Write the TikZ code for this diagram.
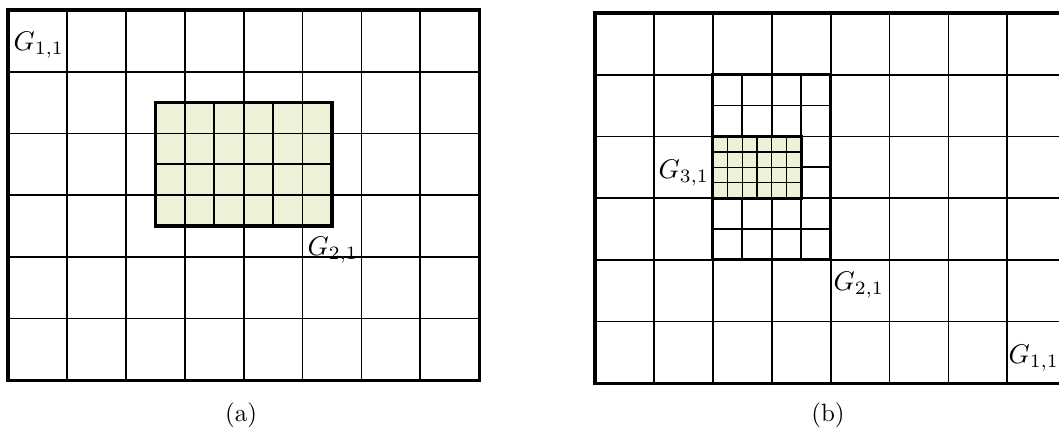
\documentclass[tikz,border=0pt]{standalone}
\usetikzlibrary{positioning}

\begin{document}
\begin{tikzpicture}[x=1pt, y=-1pt]
    % Define cell size
    \def\cellW{58.9}
    \def\cellH{61.7}

    \definecolor{borderColour}{HTML}{000000}
    \definecolor{fillColour}{HTML}{EEF0D8}

    \tikzset{
        gridLine/.style={draw=borderColour, line width=1.8pt},
        boxLine/.style={draw=borderColour, line width=3.2pt},
        gridLabel/.style={scale=2.7, inner sep=0pt, anchor=base west},
        caption/.style={scale=2.5, inner sep=0pt, anchor=base},
    }

    \useasboundingbox (0,0) rectangle (1059,431);

    % Panel (a)
    \begin{scope}[shift={(8,10)}, x=\cellW pt, y=-\cellH pt]
        % Draw coarse grid
        \foreach \i in {1,...,7}
            \draw[gridLine] (\i,0) -- (\i,6);
        \foreach \j in {1,...,5}
            \draw[gridLine] (0,\j) -- (8,\j);

        % Draw the refined patch
        \fill[fillColour] (2.5,1.5) rectangle (5.5,3.5);
        \foreach \i in {3,3.5,...,5}
            \draw[gridLine] (\i,1.5) -- (\i,3.5);
        \foreach \j in {2,2.5,3}
            \draw[gridLine] (2.5,\j) -- (5.5,\j);
        \draw[boxLine] (2.5,1.5) rectangle (5.5,3.5);

        % Draw the border
        \draw[boxLine] (0,0) rectangle (8,6);
    \end{scope}

    % Panel (b)
    \begin{scope}[shift={(595,13)}, x=\cellW pt, y=-\cellH pt]
        % Draw coarse grid
        \foreach \i in {1,...,7}
            \draw[gridLine] (\i,0) -- (\i,6);
        \foreach \j in {1,...,5}
            \draw[gridLine] (0,\j) -- (8,\j);

        % Draw the first refined patch
        \fill[white] (2,1) rectangle (4,4);
        \foreach \i in {2.5,3,3.5}
            \draw[gridLine] (\i,1) -- (\i,4);
        \foreach \j in {1.5,2,...,3.5}
            \draw[gridLine] (2,\j) -- (4,\j);

        % Draw the second refined patch
        \fill[fillColour] (2,2) rectangle (3.5,3);
        \foreach \i in {2.25,2.5,...,3.25}
            \draw[gridLine, line width=1.4pt] (\i,2) -- (\i,3);
        \foreach \j in {2.25,2.5,2.75}
            \draw[gridLine, line width=1.4pt] (2,\j) -- (3.5,\j);
        \draw[boxLine] (2,2) rectangle (3.5,3);
        \draw[boxLine] (2,1) rectangle (4,4);

        % Draw the border
        \draw[boxLine] (0,0) rectangle (8,6);
    \end{scope}

    % Labels
    \node[gridLabel] (labelOneA) at (13,50) {$G_{1,1}$};
    \node[gridLabel] (labelTwoA) at (307,255) {$G_{2,1}$};
    \node[gridLabel] (labelThreeB) at (658,178) {$G_{3,1}$};
    \node[gridLabel] (labelTwoB) at (833,290) {$G_{2,1}$};
    \node[gridLabel] (labelOneB) at (1008,363) {$G_{1,1}$};

    % Captions
    \node[caption] (captionA) at (241,421) {(a)};
    \node[caption] (captionB) at (828,421) {(b)};

\end{tikzpicture}
\end{document}
